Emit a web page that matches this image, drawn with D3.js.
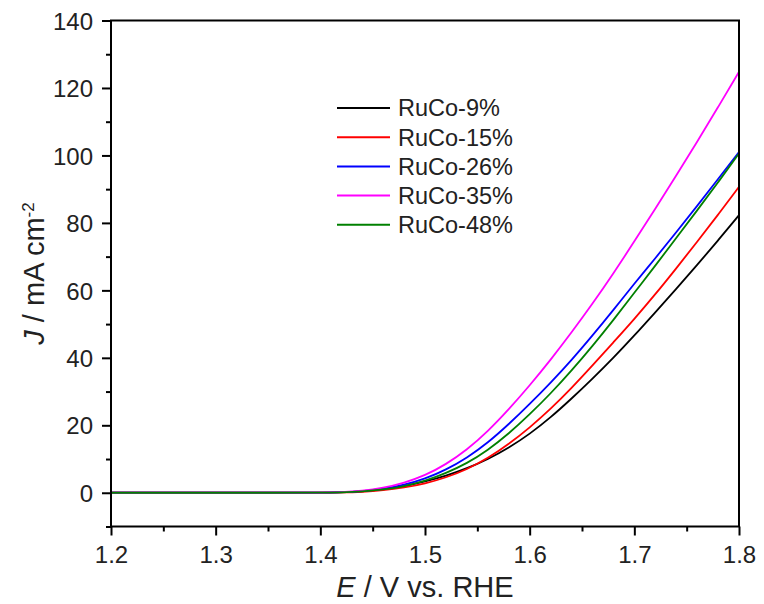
<!DOCTYPE html>
<html>
<head>
<meta charset="utf-8">
<script src="https://cdn.jsdelivr.net/npm/d3@7"></script>
<style>
  html, body { margin: 0; padding: 0; background: #fff; }
  svg { display: block; font-family: "Liberation Sans", Arial, sans-serif; }
</style>
</head>
<body>
<svg id="chart" width="764" height="604"></svg>
<script>
// Potential (V vs. RHE)
const potential = [1.20, 1.25, 1.30, 1.35, 1.40, 1.42, 1.44, 1.46, 1.48, 1.50, 1.52, 1.54, 1.56,
                   1.58, 1.60, 1.62, 1.64, 1.66, 1.68, 1.70, 1.72, 1.74, 1.76, 1.78, 1.80];

// Current density (mA cm^-2) for each catalyst
const ruco9  = [0, 0, 0, 0, 0.03, 0.12, 0.35, 0.9, 1.9, 3.3, 5.0, 7.2, 9.9,
                13.3, 17.4, 22.3, 27.9, 33.8, 40.0, 46.6, 53.5, 60.4, 67.5, 74.8, 82.3];
const ruco15 = [0, 0, 0, 0, 0.02, 0.08, 0.25, 0.7, 1.5, 2.7, 4.5, 6.9, 10.2,
                14.4, 19.3, 24.8, 31.0, 37.7, 44.6, 51.5, 58.8, 66.5, 74.4, 82.4, 90.7];
const ruco26 = [0, 0, 0, 0, 0.03, 0.15, 0.45, 1.1, 2.3, 4.1, 6.8, 10.3, 14.8,
                20.3, 26.3, 32.6, 39.3, 46.6, 54.2, 62.0, 69.5, 77.2, 85.0, 93.0, 101.0];
const ruco35 = [0, 0, 0, 0, 0.04, 0.18, 0.55, 1.4, 2.9, 5.1, 8.4, 12.7, 18.2,
                24.7, 31.8, 39.4, 47.5, 56.0, 65.0, 74.5, 84.2, 94.0, 104.0, 114.3, 124.8];
const ruco48 = [0, 0, 0, 0, 0.03, 0.12, 0.35, 0.9, 1.9, 3.5, 5.8, 8.7, 12.6,
                17.5, 23.2, 29.4, 36.2, 43.5, 51.2, 59.3, 67.3, 75.5, 83.7, 92.0, 100.6];

const seriesNames  = ["RuCo-9%", "RuCo-15%", "RuCo-26%", "RuCo-35%", "RuCo-48%"];
const seriesValues = [ruco9, ruco15, ruco26, ruco35, ruco48];
const seriesColors = ["#000000", "#ff0000", "#0000ff", "#ff00ff", "#008000"];

const xTicks = [1.2, 1.3, 1.4, 1.5, 1.6, 1.7, 1.8];
const xMinorTicks = [1.25, 1.35, 1.45, 1.55, 1.65, 1.75];
const yTicks = [0, 20, 40, 60, 80, 100, 120, 140];
const yMinorTicks = [-10, 10, 30, 50, 70, 90, 110, 130];

const svg = d3.select("#chart");
const plotLeft = 111, plotRight = 739, plotTop = 20.5, plotBottom = 526.5;

const x = d3.scaleLinear().domain([1.2, 1.8]).range([plotLeft, plotRight]);
const y = d3.scaleLinear().domain([-10, 140]).range([plotBottom, plotTop]);

// curves (drawn first so the frame sits on top)
const plot = svg.append("g");
const line = d3.line()
  .x((d, i) => x(potential[i]))
  .y(d => y(d))
  .curve(d3.curveBasis);

seriesValues.forEach((vals, k) => {
  plot.append("path")
    .datum(vals)
    .attr("fill", "none")
    .attr("stroke", seriesColors[k])
    .attr("stroke-width", 1.8)
    .attr("d", line);
});

// frame
svg.append("rect")
  .attr("x", plotLeft).attr("y", plotTop)
  .attr("width", plotRight - plotLeft).attr("height", plotBottom - plotTop)
  .attr("fill", "none").attr("stroke", "#000").attr("stroke-width", 2);

// bottom axis
const xAxis = svg.append("g")
  .attr("transform", `translate(0,${plotBottom})`)
  .call(d3.axisBottom(x).tickValues(xTicks).tickSize(9).tickPadding(10)
        .tickFormat(d3.format(".1f")));
const xMinor = svg.append("g")
  .attr("transform", `translate(0,${plotBottom})`)
  .call(d3.axisBottom(x).tickValues(xMinorTicks).tickSize(5).tickFormat(""));

// left axis
const yAxis = svg.append("g")
  .attr("transform", `translate(${plotLeft},0)`)
  .call(d3.axisLeft(y).tickValues(yTicks).tickSize(9).tickPadding(9));
const yMinor = svg.append("g")
  .attr("transform", `translate(${plotLeft},0)`)
  .call(d3.axisLeft(y).tickValues(yMinorTicks).tickSize(5).tickFormat(""));

[xAxis, xMinor, yAxis, yMinor].forEach(g => {
  g.select(".domain").remove();
  g.selectAll(".tick line").attr("stroke", "#000").attr("stroke-width", 2);
  g.selectAll("text")
    .attr("fill", "#222")
    .style("font-family", "'Liberation Sans', Arial, sans-serif")
    .style("font-size", "24px");
});
yAxis.selectAll("text").attr("dy", "0.36em");

// axis titles
const xTitle = svg.append("text")
  .attr("x", (plotLeft + plotRight) / 2)
  .attr("y", 597)
  .attr("text-anchor", "middle")
  .style("font-size", "29px")
  .attr("fill", "#222");
xTitle.append("tspan").attr("font-style", "italic").text("E");
xTitle.append("tspan").text(" / V vs. RHE");

const yTitle = svg.append("text")
  .attr("transform", `translate(44,${(plotTop + plotBottom) / 2}) rotate(-90)`)
  .attr("text-anchor", "middle")
  .style("font-size", "29px")
  .attr("fill", "#222");
yTitle.append("tspan").attr("font-style", "italic").text("J");
yTitle.append("tspan").text(" / mA cm");
yTitle.append("tspan").attr("dy", "-0.6em").style("font-size", "17px").text("-2");

// legend
const legend = svg.append("g").attr("transform", "translate(337,108)");
seriesNames.forEach((name, k) => {
  const row = legend.append("g").attr("transform", `translate(0,${k * 29.2})`);
  row.append("line")
    .attr("x1", 0).attr("x2", 53)
    .attr("y1", 0).attr("y2", 0)
    .attr("stroke", seriesColors[k]).attr("stroke-width", 2);
  row.append("text")
    .attr("x", 61).attr("y", 0).attr("dy", "0.36em")
    .style("font-size", "23.5px")
    .attr("fill", "#222")
    .text(name);
});
</script>
</body>
</html>
